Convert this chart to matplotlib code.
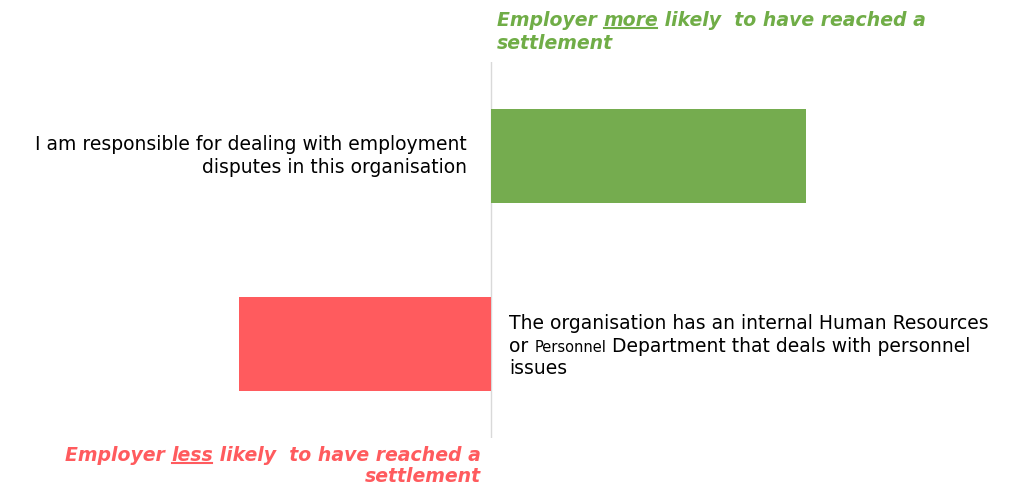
import matplotlib.pyplot as plt
from matplotlib.lines import Line2D
from matplotlib.transforms import IdentityTransform

# data
labels = [
    "I am responsible for dealing with employment\ndisputes in this organisation",
    "The organisation has an internal Human Resources\n"
    "or |Personnel| Department that deals with personnel\nissues",
]
values = [0.63, -0.504]
bar_colors = ["#75AC4F", "#FF5B5E"]
more_title = ["Employer ", "more", " likely  to have reached a", "settlement"]
less_title = ["Employer ", "less", " likely  to have reached a", "settlement"]
GREEN_TXT = "#70AD47"
RED_TXT = "#FF5B5E"

W, H = 1019, 486
fig = plt.figure(figsize=(W / 100, H / 100), dpi=100)
ax = fig.add_axes([0, 48 / H, 1, 376 / H])
ax.set_xlim(-491 / 500, 528 / 500)
ax.set_ylim(1.5, -0.5)
ax.axis("off")

ypos = list(range(len(values)))
ax.barh(ypos, values, height=0.505, color=bar_colors, zorder=2)
ax.axvline(0, color="#D9D9D9", lw=1, zorder=1)

FS = 13.5
body = dict(fontsize=FS, color="black", family="DejaVu Sans")

# category labels: on the opposite side of the bar
for y, v, lab in zip(ypos, values, labels):
    lines = lab.split("\n")
    n = len(lines)
    for i, line in enumerate(lines):
        dy = (n / 2 - 0.5 - i) * 22.8 - (0 if v > 0 else 2)
        parts = line.split("|")
        prev = ax.annotate(parts[0], xy=(0, y), xytext=(-24 if v > 0 else 18, dy),
                           textcoords="offset pixels",
                           ha="right" if v > 0 else "left",
                           va="center", **body)
        for j, p in enumerate(parts[1:]):
            size = FS * 0.78 if j % 2 == 0 else FS
            prev = ax.annotate(p, xy=(1, 0), xycoords=prev, ha="left",
                               va="bottom", fontsize=size, color="black",
                               family="DejaVu Sans")

ttl = dict(fontsize=13.6, fontweight="bold", fontstyle="italic",
           family="DejaVu Sans")

# green title, left aligned just right of the zero line
g0 = ax.annotate(more_title[0], xy=(0, H - 20), xycoords=("data", "figure pixels"),
                 xytext=(6, 0), textcoords="offset pixels", ha="left",
                 va="center", color=GREEN_TXT, **ttl)
g1 = ax.annotate(more_title[1], xy=(1, 0), xycoords=g0, ha="left", va="bottom",
                 color=GREEN_TXT, **ttl)
g2 = ax.annotate(more_title[2], xy=(1, 0), xycoords=g1, ha="left", va="bottom",
                 color=GREEN_TXT, **ttl)
ax.annotate(more_title[3], xy=(0, H - 43), xycoords=("data", "figure pixels"),
            xytext=(6, 0), textcoords="offset pixels", ha="left",
            va="center", color=GREEN_TXT, **ttl)

# red title, right aligned just left of the zero line
r2 = ax.annotate(less_title[2], xy=(0, H - 455), xycoords=("data", "figure pixels"),
                 xytext=(-10, 0), textcoords="offset pixels", ha="right",
                 va="center", color=RED_TXT, **ttl)
r1 = ax.annotate(less_title[1], xy=(0, 0), xycoords=r2, ha="right", va="bottom",
                 color=RED_TXT, **ttl)
ax.annotate(less_title[0], xy=(0, 0), xycoords=r1, ha="right", va="bottom",
            color=RED_TXT, **ttl)
ax.annotate(less_title[3], xy=(0, H - 476), xycoords=("data", "figure pixels"),
            xytext=(-10, 0), textcoords="offset pixels", ha="right",
            va="center", color=RED_TXT, **ttl)

# underline the key words
fig.canvas.draw()
rend = fig.canvas.get_renderer()
for t, c in [(g1, GREEN_TXT), (r1, RED_TXT)]:
    bb = t.get_window_extent(rend)
    yl = bb.y0 + 1.5
    fig.add_artist(Line2D([bb.x0 + 1, bb.x1 - 1], [yl, yl], color=c, lw=1.5,
                          transform=IdentityTransform()))

fig.savefig("out.png", dpi=100)
